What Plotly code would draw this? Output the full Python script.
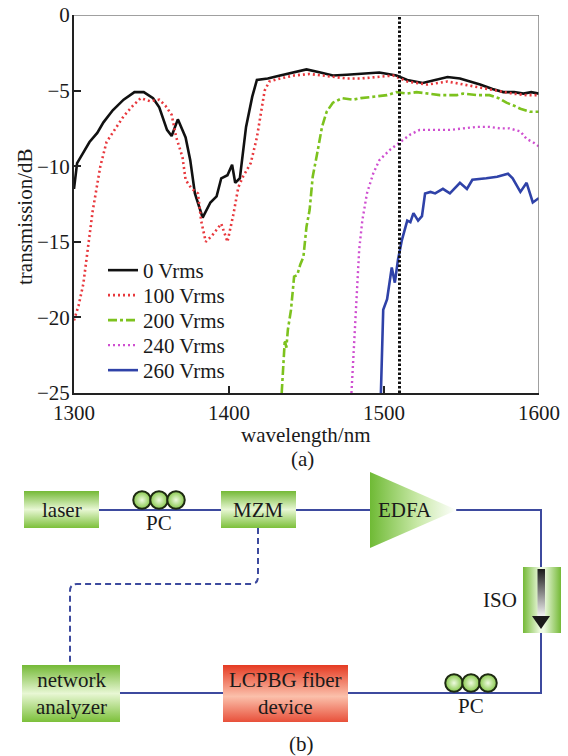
import plotly.graph_objects as go

# ---------------- data ----------------
wl_0 = [1300, 1302, 1306, 1310, 1315, 1319, 1325, 1332, 1339, 1345, 1351, 1355, 1360, 1363,
        1367, 1372, 1375, 1378, 1383, 1388, 1392, 1395, 1399, 1402, 1404, 1407, 1411, 1415,
        1418, 1425, 1433, 1441, 1450, 1459, 1467, 1476, 1485, 1497, 1508, 1515, 1525, 1533,
        1541, 1549, 1556, 1562, 1570, 1577, 1584, 1590, 1595, 1600]
tr_0 = [-11.5, -9.8, -9.1, -8.4, -7.8, -7.1, -6.3, -5.6, -5.1, -5.1, -5.5, -6.1, -7.6, -8.0,
        -6.9, -8.1, -9.6, -11.8, -13.4, -12.4, -12.0, -10.8, -10.6, -9.9, -11.1, -10.8, -7.4, -5.4,
        -4.3, -4.2, -4.0, -3.8, -3.6, -3.8, -4.0, -3.95, -3.9, -3.8, -4.0, -4.3, -4.5, -4.3,
        -4.1, -4.2, -4.4, -4.6, -4.9, -5.1, -5.1, -5.2, -5.1, -5.2]

wl_100 = [1300, 1303, 1306, 1308, 1310, 1312, 1314, 1317, 1321, 1326, 1332, 1338, 1343, 1349,
          1355, 1359, 1363, 1366, 1370, 1372, 1376, 1380, 1382, 1385, 1389, 1392, 1395, 1397,
          1399, 1403, 1406, 1409, 1414, 1418, 1421, 1423, 1426, 1433, 1442, 1452, 1460, 1467,
          1476, 1485, 1496, 1506, 1515, 1528, 1541, 1552, 1562, 1572, 1583, 1592, 1600]
tr_100 = [-20.2, -19.2, -17.8, -16.2, -14.5, -13.0, -11.8, -10.0, -8.4, -7.6, -6.7, -6.0, -5.5, -5.7,
          -5.6, -6.0, -6.6, -8.1, -9.4, -10.9, -11.5, -11.8, -13.6, -15.0, -14.6, -14.2, -13.8, -14.4,
          -15.0, -13.1, -11.4, -10.7, -9.8, -8.1, -6.3, -5.0, -4.4, -4.2, -4.0, -3.9, -4.0, -4.1,
          -4.2, -4.2, -4.1, -4.0, -4.4, -4.6, -4.4, -4.6, -4.8, -5.0, -5.2, -5.3, -5.3]

wl_200 = [1434, 1435, 1436, 1437, 1438, 1440, 1442, 1444, 1446, 1448, 1450, 1452, 1454, 1457,
          1460, 1463, 1467, 1473, 1480, 1485, 1495, 1502, 1508, 1515, 1521, 1528, 1536, 1547,
          1551, 1560, 1568, 1574, 1579, 1584, 1588, 1594, 1600]
tr_200 = [-25.0, -23.0, -21.5, -22.0, -20.8, -19.5, -17.3, -17.2, -16.5, -16.0, -14.0, -12.9, -10.7, -9.1,
          -7.4, -6.4, -5.8, -5.5, -5.6, -5.5, -5.4, -5.3, -5.1, -5.2, -5.1, -5.2, -5.3, -5.3,
          -5.2, -5.3, -5.3, -5.5, -5.8, -6.0, -6.2, -6.4, -6.4]

wl_240 = [1479, 1480.5, 1482, 1484, 1486, 1489, 1493, 1497, 1504, 1509, 1517, 1523, 1532, 1543,
          1551, 1560, 1568, 1575, 1581, 1588, 1592, 1596, 1600]
tr_240 = [-25.0, -22.2, -18.8, -15.5, -13.6, -11.8, -10.5, -9.6, -8.9, -8.5, -7.9, -7.6, -7.6, -7.6,
          -7.5, -7.4, -7.4, -7.5, -7.5, -7.7, -8.2, -8.4, -8.7]

wl_260 = [1498, 1499.5, 1502, 1505, 1507, 1509, 1511.5, 1515, 1517, 1519, 1522, 1524.5, 1526.5, 1530,
          1533, 1538, 1542.5, 1549, 1553.5, 1557, 1566, 1573, 1580, 1583, 1588, 1592, 1596, 1600]
tr_260 = [-25.0, -19.5, -18.8, -16.7, -17.7, -16.2, -14.9, -13.6, -13.7, -13.1, -13.6, -13.3, -11.8, -11.7,
          -11.8, -11.5, -11.8, -11.1, -11.5, -10.9, -10.8, -10.7, -10.5, -10.8, -11.7, -11.1, -12.4, -12.1]

series_names = ["0 Vrms", "100 Vrms", "200 Vrms", "240 Vrms", "260 Vrms"]
x_ticks = [1300, 1400, 1500, 1600]
y_ticks = [0, -5, -10, -15, -20, -25]
marker_wavelength = 1510

# ---------------- styles / layout ----------------
W, H = 568, 756
FONT = "Liberation Serif, Times New Roman, serif"
FS = 21
TXT = "#1a1a1a"
styles = [
    dict(color="#111111", width=2.6, dash="solid"),
    dict(color="#e8383d", width=2.6, dash="2px,3px"),
    dict(color="#7dc21e", width=2.6, dash="dashdot"),
    dict(color="#cf4fd0", width=2.4, dash="2px,3px"),
    dict(color="#2f42a8", width=2.6, dash="solid"),
]
series = [(wl_0, tr_0), (wl_100, tr_100), (wl_200, tr_200), (wl_240, tr_240), (wl_260, tr_260)]
legend_ids = ["legend", "legend2", "legend3", "legend4", "legend5"]
LEG_X, LEG_TOP, LEG_STEP = 103, 250, 25   # pixel placement of legend rows

fig = go.Figure()
for (wl, tr), name, st, lg in zip(series, series_names, styles, legend_ids):
    fig.add_trace(go.Scatter(x=wl, y=tr, mode="lines", name=name, line=st,
                             xaxis="x", yaxis="y", legend=lg))

# ---------------- schematic (b), pixel-like coordinates on hidden axes ----------------
FIBER = "#3d4a9e"
GREEN_V = [[0, "#7cc03a"], [0.5, "#e8f7d4"], [1, "#74b936"]]
RED_V = [[0, "#e8503a"], [0.45, "#fbc0ab"], [1, "#e53a22"]]
GREEN_H = [[0, "#74b936"], [0.45, "#eefae2"], [0.55, "#eefae2"], [1, "#74b936"]]

def fiber(xs, ys):
    fig.add_trace(go.Scatter(x=xs, y=ys, mode="lines", line=dict(color=FIBER, width=2),
                             xaxis="x2", yaxis="y2", hoverinfo="skip", showlegend=False))

def grad_poly(xs, ys, scale, kind):
    fig.add_trace(go.Scatter(x=xs, y=ys, mode="lines", line=dict(width=0), fill="toself",
                             fillgradient=dict(type=kind, colorscale=scale),
                             xaxis="x2", yaxis="y2", hoverinfo="skip", showlegend=False))

def box(x0, x1, y0, y1, scale, kind="vertical"):
    grad_poly([x0, x1, x1, x0, x0], [y0, y0, y1, y1, y0], scale, kind)

def label(x, y, text, size=FS):
    fig.add_annotation(x=x, y=y, xref="x2", yref="y2", text=text, showarrow=False,
                       xanchor="center", yanchor="middle",
                       font=dict(family=FONT, size=size, color=TXT))

# fibers
fiber([99, 221], [510, 510])
fiber([296, 370], [510, 510])
fiber([456, 541, 541], [510, 510, 567])
fiber([541, 541, 347], [633, 693, 693])
fiber([223, 120], [693, 693])

# boxes
box(24, 99, 491, 528, GREEN_V)
box(221, 296, 491, 528, GREEN_V)
box(22, 120, 665, 722, GREEN_V)
box(223, 348, 665, 722, RED_V)
box(523, 561, 567, 633, GREEN_H, "horizontal")
# ISO arrow
grad_poly([537.5, 545, 545, 537.5, 537.5], [569, 569, 619, 619, 569],
          [[0, "#ffffff"], [1, "#1a1a1a"]], "vertical")
fig.add_trace(go.Scatter(x=[532, 550, 541, 532], y=[616, 616, 629, 616], mode="lines",
                         line=dict(width=0), fill="toself", fillcolor="#1a1a1a",
                         xaxis="x2", yaxis="y2", hoverinfo="skip", showlegend=False))
# EDFA amplifier
grad_poly([370, 457, 370, 370], [472, 510, 548, 472],
          [[0, "#6fba35"], [0.55, "#c9e9a8"], [1, "#ffffff"]], "horizontal")

# polarization controllers
for cx, cy in [([142, 159, 176], 500), ([454, 471, 488], 683)]:
    fig.add_trace(go.Scatter(x=cx, y=[cy] * 3, mode="markers", xaxis="x2", yaxis="y2",
                             marker=dict(symbol="circle", size=17.5, color="#86c84a",
                                         gradient=dict(type="radial", color="#eefadf"),
                                         line=dict(color="#1e2a12", width=2)),
                             hoverinfo="skip", showlegend=False))

# labels in schematic
label(61.5, 510, "laser")
label(258.5, 510, "MZM")
label(405, 510, "EDFA")
label(500, 600, "ISO")
label(159, 523, "PC")
label(471, 706, "PC")
label(71, 693, "network<br>analyzer")
label(285.5, 693, "LCPBG fiber<br>device")
label(301, 744, "(b)")

# dashed RF line
fig.add_shape(type="path", xref="x2", yref="y2",
              path="M 258 528 L 258 577 Q 258 584 251 584 L 77 584 Q 70 584 70 591 L 70 665",
              line=dict(color=FIBER, width=2, dash="6px,4px"))

# ---------------- chart (a) decorations ----------------
fig.add_shape(type="line", xref="x", yref="y", x0=marker_wavelength, x1=marker_wavelength,
              y0=-25, y1=0, line=dict(color="#111111", width=3, dash="2.5px,2px"))
fig.add_shape(type="line", xref="x", yref="y", x0=1300, x1=1600, y0=0, y1=0,
              line=dict(color="#808080", width=1.5))
fig.add_shape(type="line", xref="x", yref="y", x0=1600, x1=1600, y0=-25, y1=0,
              line=dict(color="#808080", width=1.5))

def paper_text(x, y, text, angle=0):
    fig.add_annotation(x=x / W, y=1 - y / H, xref="paper", yref="paper", text=text,
                       textangle=angle, showarrow=False, xanchor="center", yanchor="middle",
                       font=dict(family=FONT, size=FS, color=TXT))

paper_text(25, 217, "transmission/dB", -90)
paper_text(306, 435, "wavelength/nm")
paper_text(302, 459, "(a)")

leg_font = dict(family=FONT, size=FS, color=TXT)
legends = {}
for i, lg in enumerate(legend_ids):
    legends[lg] = dict(x=LEG_X / W, y=1 - (LEG_TOP + i * LEG_STEP) / H,
                       xanchor="left", yanchor="top", bgcolor="rgba(0,0,0,0)",
                       font=leg_font, itemwidth=30)

axis_font = dict(family=FONT, size=FS, color=TXT)
fig.update_layout(
    width=W, height=H,
    margin=dict(l=0, r=0, t=0, b=0, autoexpand=False),
    paper_bgcolor="white", plot_bgcolor="rgba(0,0,0,0)",
    font=dict(family=FONT, size=FS, color=TXT),
    showlegend=True,
    **legends,
    xaxis=dict(domain=[74 / W, 539 / W], range=[1300, 1600], tickvals=x_ticks,
               ticks="inside", ticklen=7, tickwidth=1.5, tickcolor="#222",
               showline=True, linecolor="#222", linewidth=2, showgrid=False, zeroline=False,
               tickfont=axis_font, anchor="y", automargin=False),
    yaxis=dict(domain=[1 - 393 / H, 1 - 15 / H], range=[-25, 0], tickvals=y_ticks,
               ticks="inside", ticklen=7, tickwidth=1.5, tickcolor="#222",
               showline=True, linecolor="#222", linewidth=2, showgrid=False, zeroline=False,
               tickfont=axis_font, anchor="x", automargin=False, ticklabelstandoff=-2),
    xaxis2=dict(domain=[0, 1], range=[0, W], visible=False, anchor="y2", fixedrange=True,
                automargin=False),
    yaxis2=dict(domain=[0, 1 - 430 / H], range=[756, 430], visible=False, anchor="x2",
                fixedrange=True, automargin=False),
)

fig.write_html("out.html")
